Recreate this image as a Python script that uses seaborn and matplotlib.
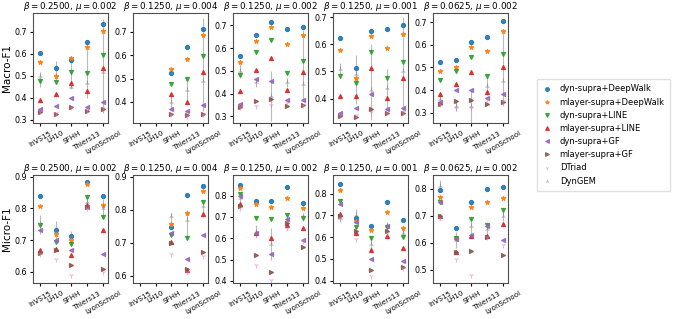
import numpy as np
import pandas as pd
import matplotlib
matplotlib.use("Agg")
import matplotlib.pyplot as plt
from matplotlib.lines import Line2D
import seaborn as sns

datasets = ["InVS15", "LH10", "SFHH", "Thiers13", "LyonSchool"]
methods = ["dyn-supra+DeepWalk", "mlayer-supra+DeepWalk", "dyn-supra+LINE",
           "mlayer-supra+LINE", "dyn-supra+GF", "mlayer-supra+GF", "DTriad", "DynGEM"]
markers = ["o", "*", "v", "^", "<", ">", "1", "2"]
titles = [r"$\beta=0.2500$, $\mu=0.002$", r"$\beta=0.1250$, $\mu=0.004$",
          r"$\beta=0.1250$, $\mu=0.002$", r"$\beta=0.1250$, $\mu=0.001$",
          r"$\beta=0.0625$, $\mu=0.002$"]
nan = np.nan

# Macro-F1, one list per method (order of `methods`), values per dataset
macro_b2500_m002 = [[0.605, 0.537, 0.573, 0.652, 0.735],
                    [0.565, 0.500, 0.580, 0.630, 0.705],
                    [0.477, 0.474, 0.520, 0.515, 0.593],
                    [0.392, 0.418, 0.467, 0.432, 0.537],
                    [0.350, 0.362, 0.398, 0.357, 0.380],
                    [0.336, 0.328, 0.358, 0.340, 0.350],
                    [0.340, 0.330, 0.360, 0.345, 0.352],
                    [0.500, 0.480, 0.450, 0.470, 0.520]]
macro_b1250_m004 = [[nan, nan, 0.523, 0.636, 0.712],
                    [nan, nan, 0.540, 0.582, 0.685],
                    [nan, nan, 0.478, 0.498, 0.598],
                    [nan, nan, 0.436, 0.400, 0.527],
                    [nan, nan, 0.370, 0.363, 0.388],
                    [nan, nan, 0.347, 0.345, 0.350],
                    [nan, nan, 0.350, 0.340, 0.350],
                    [nan, nan, 0.400, 0.450, 0.490]]
macro_b1250_m002 = [[0.566, 0.658, 0.716, 0.683, 0.692],
                    [0.537, 0.632, 0.695, 0.620, 0.658],
                    [0.480, 0.585, 0.636, 0.490, 0.545],
                    [0.410, 0.502, 0.558, 0.415, 0.495],
                    [0.355, 0.465, 0.455, 0.370, 0.373],
                    [0.340, 0.368, 0.375, 0.345, 0.348],
                    [0.340, 0.345, 0.350, 0.360, 0.350],
                    [0.500, 0.450, 0.390, 0.450, 0.440]]
macro_b1250_m001 = [[0.622, 0.512, 0.648, 0.657, 0.672],
                    [0.578, 0.475, 0.630, 0.585, 0.638],
                    [0.483, 0.457, 0.572, 0.477, 0.535],
                    [0.410, 0.410, 0.512, 0.403, 0.475],
                    [0.345, 0.367, 0.415, 0.360, 0.365],
                    [0.335, 0.333, 0.362, 0.345, 0.345],
                    [0.340, 0.340, 0.350, 0.350, 0.350],
                    [0.510, 0.490, 0.430, 0.440, 0.500]]
macro_b0625_m002 = [[0.522, 0.534, 0.613, 0.632, 0.705],
                    [0.485, 0.500, 0.590, 0.572, 0.660],
                    [0.443, 0.485, 0.545, 0.462, 0.560],
                    [0.384, 0.428, 0.478, 0.392, 0.502],
                    [0.348, 0.400, 0.402, 0.365, 0.385],
                    [0.340, 0.350, 0.355, 0.340, 0.346],
                    [0.340, 0.320, 0.320, 0.360, 0.350],
                    [0.360, 0.330, 0.330, 0.420, 0.440]]

# Micro-F1
micro_b2500_m002 = [[0.838, 0.732, 0.712, 0.883, 0.838],
                    [0.808, 0.720, 0.700, 0.878, 0.812],
                    [0.748, 0.695, 0.688, 0.835, 0.772],
                    [0.670, 0.672, 0.652, 0.810, 0.733],
                    [0.732, 0.700, 0.668, 0.805, 0.655],
                    [0.660, 0.668, 0.622, 0.805, 0.608],
                    [0.655, 0.640, 0.590, 0.800, 0.600],
                    [0.750, 0.730, 0.710, 0.820, 0.800]]
micro_b1250_m004 = [[nan, nan, 0.747, 0.843, 0.873],
                    [nan, nan, 0.757, 0.790, 0.858],
                    [nan, nan, 0.722, 0.714, 0.823],
                    [nan, nan, 0.702, 0.618, 0.786],
                    [nan, nan, 0.728, 0.652, 0.722],
                    [nan, nan, 0.700, 0.620, 0.672],
                    [nan, nan, 0.665, 0.610, 0.660],
                    [nan, nan, 0.780, 0.770, 0.810]]
micro_b1250_m002 = [[0.850, 0.775, 0.773, 0.843, 0.765],
                    [0.835, 0.760, 0.745, 0.790, 0.740],
                    [0.808, 0.695, 0.690, 0.710, 0.693],
                    [0.760, 0.625, 0.600, 0.660, 0.648],
                    [0.800, 0.625, 0.528, 0.690, 0.590],
                    [0.750, 0.520, 0.443, 0.670, 0.560],
                    [0.740, 0.475, 0.405, 0.650, 0.585],
                    [0.790, 0.630, 0.575, 0.680, 0.700]]
micro_b1250_m001 = [[0.842, 0.688, 0.652, 0.762, 0.680],
                    [0.815, 0.675, 0.635, 0.715, 0.640],
                    [0.765, 0.648, 0.595, 0.648, 0.600],
                    [0.705, 0.618, 0.543, 0.605, 0.550],
                    [0.750, 0.668, 0.500, 0.652, 0.490],
                    [0.695, 0.628, 0.448, 0.628, 0.462],
                    [0.690, 0.590, 0.420, 0.620, 0.460],
                    [0.690, 0.700, 0.570, 0.650, 0.620]]
micro_b0625_m002 = [[0.795, 0.655, 0.750, 0.800, 0.805],
                    [0.770, 0.615, 0.730, 0.750, 0.765],
                    [0.750, 0.615, 0.688, 0.665, 0.720],
                    [0.697, 0.565, 0.625, 0.625, 0.668],
                    [0.750, 0.612, 0.628, 0.660, 0.610],
                    [0.697, 0.565, 0.570, 0.620, 0.553],
                    [0.690, 0.540, 0.478, 0.620, 0.590],
                    [0.810, 0.610, 0.660, 0.650, 0.700]]

# DynGEM spread (low, high) per dataset
macro_err = [([0.45, 0.50, 0.44, 0.40, 0.33], [0.52, 0.57, 0.58, 0.66, 0.76]),
             ([nan, nan, 0.37, 0.40, 0.36], [nan, nan, 0.43, 0.50, 0.76]),
             ([0.47, 0.43, 0.28, 0.43, 0.37], [0.53, 0.47, 0.50, 0.47, 0.68]),
             ([0.49, 0.38, 0.32, 0.36, 0.34], [0.53, 0.56, 0.60, 0.51, 0.70]),
             ([0.33, 0.31, 0.25, 0.38, 0.33], [0.39, 0.35, 0.40, 0.46, 0.66])]
micro_err = [([0.72, 0.70, 0.68, 0.80, 0.77], [0.78, 0.76, 0.73, 0.84, 0.83]),
             ([nan, nan, 0.76, 0.72, 0.79], [nan, nan, 0.79, 0.80, 0.83]),
             ([0.77, 0.60, 0.50, 0.66, 0.68], [0.81, 0.66, 0.65, 0.70, 0.72]),
             ([0.67, 0.67, 0.54, 0.63, 0.60], [0.71, 0.73, 0.60, 0.67, 0.64]),
             ([0.79, 0.58, 0.63, 0.63, 0.68], [0.83, 0.64, 0.69, 0.67, 0.72])]

macro_all = [macro_b2500_m002, macro_b1250_m004, macro_b1250_m002, macro_b1250_m001, macro_b0625_m002]
micro_all = [micro_b2500_m002, micro_b1250_m004, micro_b1250_m002, micro_b1250_m001, micro_b0625_m002]
macro_ylim = [(0.286, 0.786), (0.31, 0.78), (0.27, 0.755), (0.31, 0.715), (0.255, 0.74)]
micro_ylim = [(0.565, 0.905), (0.578, 0.905), (0.39, 0.897), (0.39, 0.885), (0.45, 0.85)]
macro_ticks = [[0.3, 0.4, 0.5, 0.6, 0.7], [0.4, 0.5, 0.6, 0.7], [0.3, 0.4, 0.5, 0.6, 0.7],
               [0.4, 0.5, 0.6, 0.7], [0.3, 0.4, 0.5, 0.6, 0.7]]
micro_ticks = [[0.6, 0.7, 0.8, 0.9], [0.6, 0.7, 0.8, 0.9], [0.4, 0.5, 0.6, 0.7, 0.8],
               [0.4, 0.5, 0.6, 0.7, 0.8], [0.5, 0.6, 0.7, 0.8]]

palette = sns.color_palette("tab10", 8)
msizes = [3.0, 3.4, 3.0, 3.0, 3.0, 3.0, 3.8, 3.8]
malpha = [0.9, 0.9, 0.9, 0.9, 0.9, 0.9, 0.55, 0.55]
plt.rcParams["font.family"] = ["DejaVu Sans"]

fig = plt.figure(figsize=(6.78, 3.19), dpi=100)
W, H = 678, 319


def draw(ax, vals, err, ylim, ticks, title, ylabel):
    rows = []
    for m, series in zip(methods, vals):
        for d, v in zip(datasets, series):
            rows.append({"dataset": d, "method": m, "score": v})
    df = pd.DataFrame(rows).dropna()
    sns.pointplot(data=df, x="dataset", y="score", hue="method", order=datasets,
                  hue_order=methods, palette=palette, markers=markers,
                  linestyles="none", dodge=False, errorbar=None, ax=ax, legend=False)
    for line, ms, a in zip(ax.lines, msizes, malpha):
        line.set_markersize(ms)
        line.set_alpha(a)
        line.set_markeredgewidth(0.8)
    lo, hi = err
    ax.vlines(range(len(datasets)), lo, hi, color="0.55", lw=0.8, alpha=0.6, zorder=1)
    ax.set_ylim(*ylim)
    ax.set_yticks(ticks)
    ax.set_xlim(-0.42, 4.3)
    ax.set_xlabel("")
    ax.set_ylabel(ylabel, fontsize=7.5, labelpad=2)
    ax.set_title(title, fontsize=6.3, pad=3)
    ax.tick_params(axis="y", labelsize=5.8, length=2.5, pad=1.5)
    ax.tick_params(axis="x", labelsize=5.1, length=2.5, pad=2.5)
    for lab in ax.get_xticklabels():
        lab.set_rotation(30)
        lab.set_ha("center")
    for sp in ax.spines.values():
        sp.set_color("0.3")


for i in range(5):
    left = (33 + 100 * i) / W
    ax = fig.add_axes([left, 1 - 123 / H, 75 / W, 110 / H])
    draw(ax, macro_all[i], macro_err[i], macro_ylim[i], macro_ticks[i], titles[i],
         "Macro-F1" if i == 0 else "")
    ax = fig.add_axes([left, 1 - 283 / H, 75 / W, 108 / H])
    draw(ax, micro_all[i], micro_err[i], micro_ylim[i], micro_ticks[i], titles[i],
         "Micro-F1" if i == 0 else "")

handles = [Line2D([], [], ls="none", marker=mk, color=c, alpha=a, markersize=2.8,
                  markeredgewidth=0.7)
           for mk, c, a in zip(markers, palette, malpha)]
fig.legend(handles, methods, loc="center left", bbox_to_anchor=(533 / W, 1 - 135 / H),
           fontsize=6.0, frameon=True, labelspacing=0.5, handletextpad=0.9,
           handlelength=1.2, borderpad=0.6, fancybox=False, edgecolor="0.85")

plt.savefig("out.png", dpi=100)
